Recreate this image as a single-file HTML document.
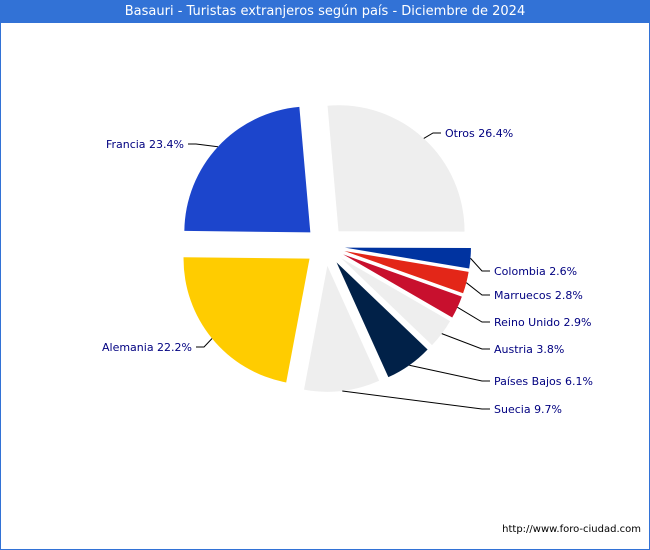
<!DOCTYPE html>
<html><head><meta charset="utf-8"><style>
body{margin:0;background:#fff}
#c{position:relative;width:650px;height:550px;box-sizing:border-box;border:1px solid #3272d6;border-top:none;background:#fff;font-family:"DejaVu Sans","Liberation Sans",sans-serif}
#t{height:23px;background:#3272d6;color:#fff;font-size:13px;line-height:23px;text-align:center}
svg{position:absolute;left:0;top:0}
</style></head><body>
<div id="c">
<div id="t">Basauri - Turistas extranjeros según país - Diciembre de 2024</div>
<svg id="s" width="650" height="550"></svg>
</div>
<script>
const categories=["Otros","Colombia","Marruecos","Reino Unido","Austria","Países Bajos","Suecia","Alemania","Francia"];
const values=[26.4,2.6,2.8,2.9,3.8,6.1,9.7,22.2,23.4];
const colors=["#eeeeee","#0033a0","#e32618","#c8102e","#eeeeee","#012148","#eeeeee","#ffcc00","#1c45cc"];
const labelY=[133,271,295,322,349,381,409,347,144];
const labelSide=["r","r","r","r","r","r","r","l","l"];
const cx=324,cy=246,R=126,D=20,start=-5;
const s=document.getElementById('s');const NS="http://www.w3.org/2000/svg";
const total=values.reduce((a,b)=>a+b,0);
function pt(a,r,ox,oy){const t=a*Math.PI/180;return [ox+r*Math.sin(t),oy-r*Math.cos(t)];}
let a0=start;
values.forEach((v,i)=>{
 const span=v/total*360,a1=a0+span,mid=(a0+a1)/2;
 const [ox,oy]=pt(mid,D,cx,cy);
 const p0=pt(a0,R,ox,oy),p1=pt(a1,R,ox,oy);
 const p=document.createElementNS(NS,'path');
 p.setAttribute('d',`M${ox},${oy}L${p0[0]},${p0[1]}A${R},${R} 0 ${span>180?1:0} 1 ${p1[0]},${p1[1]}Z`);
 p.setAttribute('fill',colors[i]);
 
 
 s.appendChild(p);
 const e=pt(mid,R,ox,oy);const y=labelY[i];
 const right=labelSide[i]=="r";
 const tx=right?(i==0?444:493):(i==8?183:191);
 const ex=right?tx-12:tx+12;
 const l=document.createElementNS(NS,'polyline');
 l.setAttribute('points',`${e[0]},${e[1]} ${ex},${y} ${right?tx-4:tx+4},${y}`);
 l.setAttribute('fill','none');l.setAttribute('stroke','#000');l.setAttribute('stroke-width','1');
 
 
 s.appendChild(l);
 const t=document.createElementNS(NS,'text');
 t.setAttribute('x',tx);t.setAttribute('y',y+4);
 t.setAttribute('text-anchor',right?'start':'end');
 t.setAttribute('font-size','11');t.setAttribute('fill','#000080');
 t.textContent=categories[i]+' '+v.toFixed(1)+'%';
 
 
 s.appendChild(t);
 a0=a1;
});
const w=document.createElementNS(NS,'text');
w.setAttribute('x',640);w.setAttribute('y',532);w.setAttribute('text-anchor','end');
w.setAttribute('font-size','10');w.setAttribute('fill','#000');
w.textContent='http://www.foro-ciudad.com';


s.appendChild(w);
</script>
</body></html>
